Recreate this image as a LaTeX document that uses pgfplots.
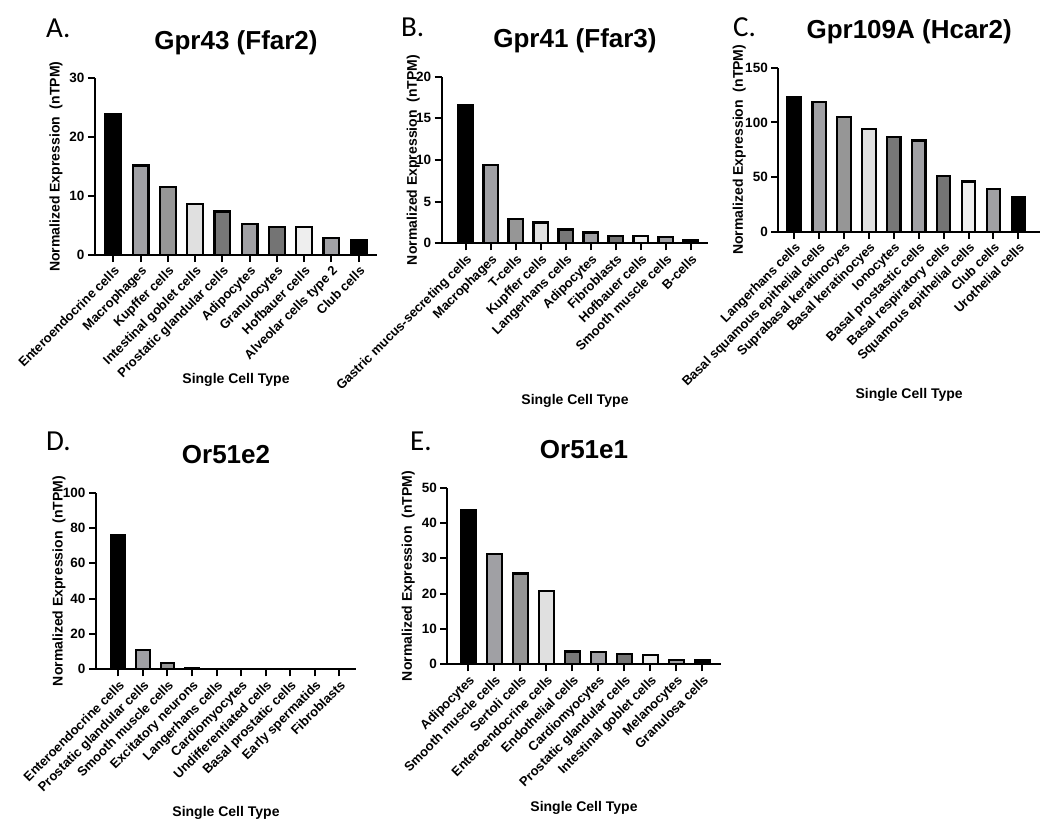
\documentclass[border=0pt]{standalone}
\usepackage{fontspec}
\setmainfont{Liberation Sans}
\newfontfamily\panelfont{Carlito}
\usepackage{pgfplots}
\pgfplotsset{compat=1.18}

\definecolor{g2}{HTML}{A0A0A4}
\definecolor{g3}{HTML}{969696}
\definecolor{g4}{HTML}{E0E0E0}
\definecolor{g5}{HTML}{777777}
\definecolor{g7}{HTML}{747474}
\definecolor{g8}{HTML}{EEEEEE}

\pgfplotscreateplotcyclelist{gp}{
 {fill=black},{fill=g2},{fill=g3},{fill=g4},{fill=g5},
 {fill=g2},{fill=g7},{fill=g8},{fill=g2},{fill=black}}

\pgfplotsset{
 gpbar/.style={
  scale only axis, ybar,
  cycle list name=gp,
  every axis plot post/.append style={bar shift=0pt, draw=black, line width=2.2pt},
  axis lines=left, axis line style={-, line width=2pt},
  ymin=0, xtick={0,...,9}, enlargelimits=false, clip=false,
  tick align=outside, major tick length=7pt,
  tick style={black, line width=2pt}, minor tick num=0,
  /pgf/number format/assume math mode=true,
  yticklabel style={font=\bfseries\fontsize{13.5}{15}\selectfont},
  xticklabel style={font=\bfseries\fontsize{13}{15}\selectfont, rotate=45, anchor=north east, inner sep=2pt},
  title style={font=\bfseries\fontsize{26}{30}\selectfont, at={(0.5,1)}, anchor=base, yshift=23pt},
  xlabel={Single Cell Type},
  ylabel={Normalized Expression~~(nTPM)},
 },
 xl/.style={every axis x label/.style={at={(axis description cs:0.5,0)}, yshift=-#1, anchor=center,
   font=\bfseries\fontsize{14}{16}\selectfont}},
 yl/.style={every axis y label/.style={at={(axis description cs:0,0.5)}, xshift=-#1, rotate=90, anchor=center,
   font=\bfseries\fontsize{14}{16}\selectfont}},
}

\begin{document}
\begin{tikzpicture}
\path[use as bounding box] (0,0) rectangle (1050pt,-828pt);

% panel letters
\node[anchor=base west, inner sep=0pt, font=\panelfont\fontsize{29}{32}\selectfont] at (46pt,-37pt) {A.};
\node[anchor=base west, inner sep=0pt, font=\panelfont\fontsize{29}{32}\selectfont] at (401pt,-36.5pt) {B.};
\node[anchor=base west, inner sep=0pt, font=\panelfont\fontsize{29}{32}\selectfont] at (733pt,-36pt) {C.};
\node[anchor=base west, inner sep=0pt, font=\panelfont\fontsize{29}{32}\selectfont] at (46pt,-450pt) {D.};
\node[anchor=base west, inner sep=0pt, font=\panelfont\fontsize{29}{32}\selectfont] at (410pt,-450pt) {E.};

% A
\begin{axis}[gpbar, at={(95pt,-255pt)}, anchor=south west,
 width=282pt, height=176.7pt, xmin=-0.67, xmax=9.67, ymax=30, ytick={0,10,20,30},
 bar width=0.58, title={Gpr43 (Ffar2)}, xl=125pt, yl=39pt,
 xticklabels={Enteroendocrine cells, Macrophages, Kupffer cells, Intestinal goblet cells,
  Prostatic glandular cells, Adipocytes, Granulocytes, Hofbauer cells, Alveolar cells type 2, Club cells}]
\addplot coordinates {(0,23.9)};
\addplot coordinates {(1,15.2)};
\addplot coordinates {(2,11.6)};
\addplot coordinates {(3,8.7)};
\addplot coordinates {(4,7.4)};
\addplot coordinates {(5,5.3)};
\addplot coordinates {(6,4.8)};
\addplot coordinates {(7,4.7)};
\addplot coordinates {(8,2.9)};
\addplot coordinates {(9,2.5)};
\end{axis}

% B
\begin{axis}[gpbar, at={(441.7pt,-243.3pt)}, anchor=south west,
 width=266.6pt, height=166.6pt, xmin=-0.96, xmax=9.7, ymax=20, ytick={0,5,10,15,20},
 bar width=0.58, title={Gpr41 (Ffar3)}, xl=158pt, yl=28.5pt,
 xticklabels={Gastric mucus-secreting cells, Macrophages, T-cells, Kupffer cells,
  Langerhans cells, Adipocytes, Fibroblasts, Hofbauer cells, Smooth muscle cells, B-cells}]
\addplot coordinates {(0,16.6)};
\addplot coordinates {(1,9.4)};
\addplot coordinates {(2,2.9)};
\addplot coordinates {(3,2.5)};
\addplot coordinates {(4,1.65)};
\addplot coordinates {(5,1.3)};
\addplot coordinates {(6,0.85)};
\addplot coordinates {(7,0.85)};
\addplot coordinates {(8,0.78)};
\addplot coordinates {(9,0.42)};
\end{axis}

% C
\begin{axis}[gpbar, at={(778.3pt,-231.7pt)}, anchor=south west,
 width=261.7pt, height=164pt, xmin=-0.64, xmax=9.87, ymax=150, ytick={0,50,100,150},
 bar width=0.54, title={Gpr109A (Hcar2)}, xl=163pt, yl=39pt,
 xticklabels={Langerhans cells, Basal squamous epithelial cells, Suprabasal keratinocyes,
  Basal keratinocyes, Ionocytes, Basal prostastic cells, Basal respiratory cells,
  Squamous epithelial cells, Club cells, Urothelial cells}]
\addplot coordinates {(0,122.9)};
\addplot coordinates {(1,118.9)};
\addplot coordinates {(2,104.9)};
\addplot coordinates {(3,93.6)};
\addplot coordinates {(4,86.6)};
\addplot coordinates {(5,83.5)};
\addplot coordinates {(6,51.2)};
\addplot coordinates {(7,46.0)};
\addplot coordinates {(8,39.3)};
\addplot coordinates {(9,31.7)};
\end{axis}

% D
\begin{axis}[gpbar, at={(96pt,-669.3pt)}, anchor=south west,
 width=260pt, height=176.6pt, xmin=-0.91, xmax=9.68, ymax=100, ytick={0,20,40,60,80,100},
 bar width=0.55, title={Or51e2}, xl=144pt, yl=37pt,
 xticklabels={Enteroendocrine cells, Prostatic glandular cells, Smooth muscle cells,
  Excitatory neurons, Langerhans cells, Cardiomyocytes, Undifferentiated cells,
  Basal prostatic cells, Early spermatids, Fibroblasts}]
\addplot coordinates {(0,76.2)};
\addplot coordinates {(1,11.1)};
\addplot coordinates {(2,3.7)};
\addplot coordinates {(3,0.8)};
\addplot coordinates {(4,0)};
\addplot coordinates {(5,0)};
\addplot coordinates {(6,0)};
\addplot coordinates {(7,0)};
\addplot coordinates {(8,0)};
\addplot coordinates {(9,0)};
\end{axis}

% E
\begin{axis}[gpbar, at={(447.3pt,-664.3pt)}, anchor=south west,
 width=273.4pt, height=176.6pt, xmin=-0.81, xmax=9.71, ymax=50, ytick={0,10,20,30,40,50},
 bar width=0.58, title={Or51e1}, xl=144pt, yl=39pt,
 xticklabels={Adipocytes, Smooth muscle cells, Sertoli cells, Enteroendocrine cells,
  Endothelial cells, Cardiomyocytes, Prostatic glandular cells, Intestinal goblet cells,
  Melanocytes, Granulosa cells}]
\addplot coordinates {(0,43.6)};
\addplot coordinates {(1,31.2)};
\addplot coordinates {(2,25.7)};
\addplot coordinates {(3,20.7)};
\addplot coordinates {(4,3.6)};
\addplot coordinates {(5,3.4)};
\addplot coordinates {(6,2.9)};
\addplot coordinates {(7,2.6)};
\addplot coordinates {(8,1.3)};
\addplot coordinates {(9,1.2)};
\end{axis}
\end{tikzpicture}
\end{document}
